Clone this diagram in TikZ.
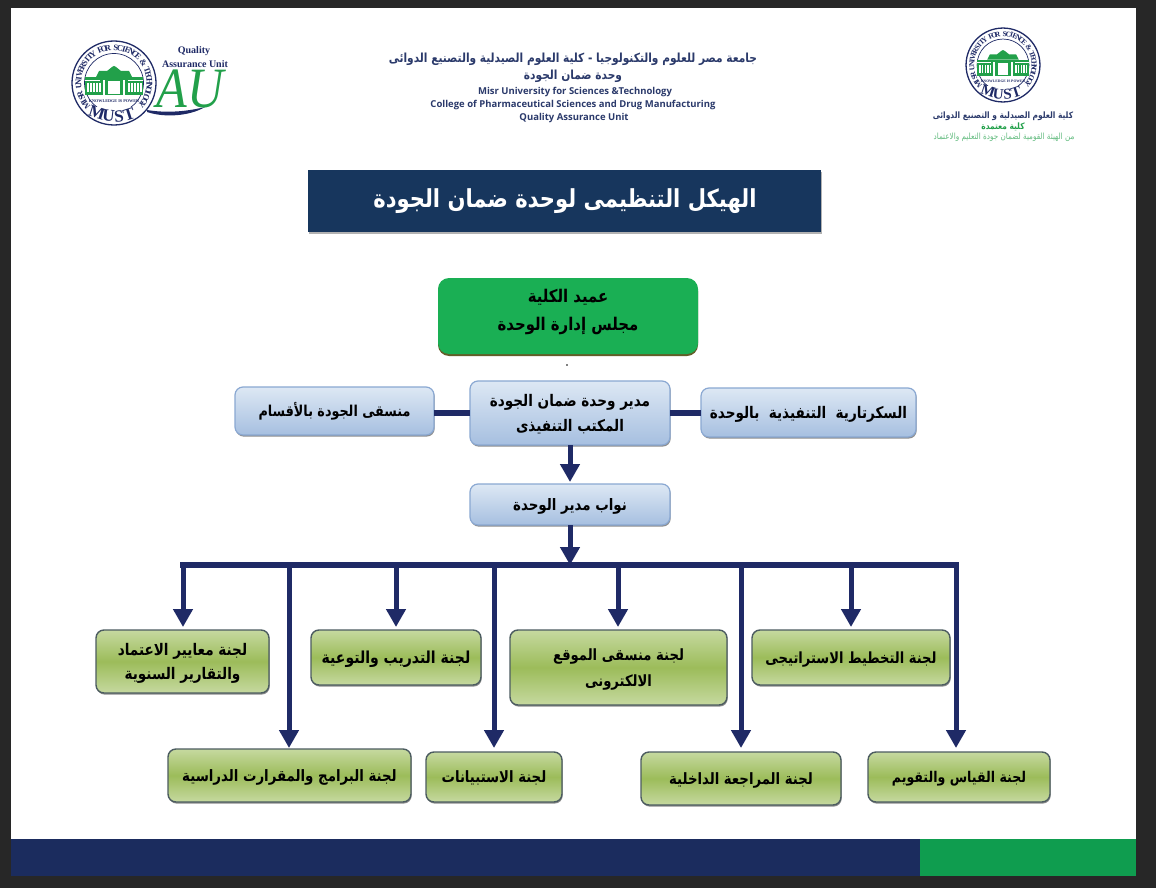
\documentclass[tikz,border=0pt]{standalone}
\usepackage{fontspec}
\usetikzlibrary{arrows.meta,shadows}
\setmainfont{Liberation Sans}
\TeXXeTstate=1
\newfontfamily\arabicfont[Script=Arabic,FakeStretch=0.85]{DejaVu Sans}
\newfontfamily\serifbody{Liberation Serif}
\newfontfamily\headlatin{Open Sans}
\definecolor{frameC}{HTML}{272727}
\definecolor{navyC}{HTML}{1F2A66}
\definecolor{titleC}{HTML}{17365D}
\definecolor{footN}{HTML}{1B2C5E}
\definecolor{footG}{HTML}{0F9D4F}
\definecolor{deanC}{HTML}{1AAF54}
\definecolor{logoG}{HTML}{22A04A}
\definecolor{headC}{HTML}{2B3A6B}
\definecolor{gTop}{HTML}{C6D9A0}
\definecolor{gMid}{HTML}{9CBC5A}
\definecolor{gEdge}{HTML}{4C5C60}
\definecolor{bTop}{HTML}{DDE8F4}
\definecolor{bBot}{HTML}{A6BFE0}
\definecolor{bEdge}{HTML}{8AA8D2}
\newcommand{\ar}[2]{{\fontsize{#1}{#1}\selectfont\arabicfont\bfseries\raisebox{-2pt}[.8em][.3em]{#2}}}
\newcommand{\arlight}[2]{{\fontsize{#1}{#1}\selectfont\arabicfont #2}}
\newcommand{\fs}[1]{\fontsize{#1}{#1}\selectfont}
% #1 x, #2 y, #3 scale, #4 ring text size, #5 MUST size, #6 motto size
\newcommand{\mustlogo}[6]{%
 \begin{scope}[shift={(#1,#2)},scale=#3]
  \fill[white] (0,0) circle[radius=42];
  \draw[navyC,line width=0.7pt] (0,0) circle[radius=29.5];
  \foreach \ch [count=\ii] in {M,I,S,R,{},U,N,I,V,E,R,S,I,T,Y,{},F,O,R,{},S,C,I,E,N,C,E,{},\&,{},T,E,C,H,N,O,L,O,G,Y}{
    \pgfmathsetmacro{\aa}{218-(\ii-1)*6.56}
    \node[rotate=\aa-90,text=navyC,inner sep=0pt] at (\aa:35.5) {\fs{#4}\serifbody\bfseries\ch};
  }
  \fill[white] (-26,-40) rectangle (26,-24);
  \draw[navyC,line width=1.3pt] (0,0) circle[radius=42];
  \foreach \ch/\xx/\yy/\rr in {M/-17/-30/-18,U/-5.5/-33/-6,S/5/-33/6,T/15/-31/18}{
    \node[rotate=\rr,text=navyC,inner sep=0pt] at (\xx,\yy) {\fs{#5}\serifbody\bfseries\ch};
  }
  \node[text=navyC,inner sep=0pt] at (0,-18) {\fs{#6}\serifbody\bfseries KNOWLEDGE IS POWER};
  \fill[logoG] (-29,-12) rectangle (29,6);
  \fill[logoG] (-18,6) -- (-15,12) -- (-7,12) -- (-2,16) -- (0,17) -- (2,16) -- (7,12) -- (15,12) -- (18,6) -- cycle;
  \fill[white] (-6,-11) rectangle (6,2);
  \foreach \cx in {-27,-24,-21,-18,-15, 14,17,20,23,26}{\fill[white] (\cx,-9) rectangle (\cx+1.6,0);}
  \foreach \cx in {-11,9}{\fill[white] (\cx,-12) rectangle (\cx+2,3);}
  \fill[white] (-29,2) rectangle (-14,3);
  \fill[white] (14,2) rectangle (29,3);
 \end{scope}}
\tikzset{
 gbox/.style={draw=gEdge,line width=1.4pt,rounded corners=8pt,inner sep=0pt,outer sep=0pt,align=center,
   top color=gTop,bottom color=gTop,middle color=gMid,
   drop shadow={shadow xshift=0.7pt,shadow yshift=-1.6pt,fill=black,opacity=.45}},
 bbox/.style={draw=bEdge,line width=1.2pt,rounded corners=8pt,inner sep=0pt,outer sep=0pt,align=center,
   top color=bTop,bottom color=bBot,
   drop shadow={shadow xshift=0.7pt,shadow yshift=-1.6pt,fill=black,opacity=.45}},
 deanbox/.style={fill=deanC,rounded corners=11pt,inner sep=0pt,outer sep=0pt,align=center,
   drop shadow={shadow xshift=0pt,shadow yshift=-2pt,fill=olive!60!black,opacity=1}},
 titlebox/.style={fill=titleC,inner sep=0pt,outer sep=0pt,text=white,
   drop shadow={shadow xshift=1pt,shadow yshift=-1.5pt,fill=gray,opacity=.6}},
 flatlink/.style={navyC,line width=6pt},
 dropline/.style={navyC,line width=5pt,-{Triangle[width=19pt,length=18pt]},shorten >=3pt},
 hdr/.style={inner sep=0pt,outer sep=0pt,text=headC},
}
\begin{document}
\begin{tikzpicture}[x=1pt,y=1pt]
\useasboundingbox (0,0) rectangle (1156,-888);
\fill[frameC] (0,0) rectangle (1156,-888);
\fill[white] (11,-8) rectangle (1136,-876);
\fill[footN] (11,-839) rectangle (920,-876);
\fill[footG] (920,-839) rectangle (1136,-876);

% logos
\fill[navyC] (147,-110) .. controls (165,-113) and (185,-112) .. (205,-107) .. controls (190,-116) and (165,-118) .. (147,-112) -- cycle;
\node[inner sep=0pt,anchor=base,text=logoG] (au) at (190,-108) {\fs{57}\serifbody\itshape\scalebox{.88}[1]{AU}};
\mustlogo{114}{-83}{1}{8.4}{17}{4.2}
\mustlogo{1003}{-65}{0.88}{7.4}{15}{3.7}
\node[hdr,text=navyC] (qa1) at (194,-51) {\fs{10}\serifbody\bfseries Quality};
\node[hdr,text=navyC] (qa2) at (195,-64) {\fs{10}\serifbody\bfseries Assurance Unit};

% header
\node[hdr] (h1) at (573,-57) {\ar{12.5}{\beginR جامعة مصر للعلوم والتكنولوجيا - كلية العلوم الصيدلية والتصنيع الدوائى\endR}};
\node[hdr] (h2) at (573,-74) {\ar{12.5}{\beginR وحدة ضمان الجودة\endR}};
\node[hdr] (h3) at (575,-92) {\fs{9.5}\headlatin\bfseries Misr University for Sciences \&Technology};
\node[hdr] (h4) at (573,-105) {\fs{9.5}\headlatin\bfseries College of Pharmaceutical Sciences and Drug Manufacturing};
\node[hdr] (h5) at (574,-118) {\fs{9.5}\headlatin\bfseries Quality Assurance Unit};

% right caption
\node[hdr] (c1t) at (1003,-114) {\ar{8.8}{\beginR كلية العلوم الصيدلية و التصنيع الدوائى\endR}};
\node[hdr,text=logoG] (c2t) at (1003,-125) {\ar{8.8}{\beginR كلية معتمدة\endR}};
\node[hdr,text=logoG!70!white] (c3t) at (1004,-137) {\arlight{8.5}{\beginR من الهيئة القومية لضمان جودة التعليم والاعتماد\endR}};

% title
\node[titlebox,minimum width=513pt,minimum height=62pt] (title) at (564.5,-201) {};
\node[inner sep=0pt,text=white] (titletext) at (565,-199) {\ar{24.8}{\beginR الهيكل التنظيمى لوحدة ضمان الجودة\endR}};

% dot
\fill[black] (567,-365) circle[radius=0.8];

% upper boxes
\node[deanbox,minimum width=260pt,minimum height=76pt] (dean) at (568,-316) {};
\node[inner sep=0pt,align=center] (deantext) at (568,-310)
  {\ar{17.5}{\beginR عميد الكلية\endR}\\[8pt]\ar{17.5}{\beginR مجلس إدارة الوحدة\endR}};
\node[bbox,minimum width=199pt,minimum height=48pt] (coord) at (334.5,-411) {\ar{15}{\beginR منسقى الجودة بالأقسام\endR}};
\node[bbox,minimum width=200pt,minimum height=64pt] (mgr) at (570,-413)
  {\ar{16}{\beginR مدير وحدة ضمان الجودة\endR}\\[7pt]\ar{16}{\beginR المكتب التنفيذى\endR}};
\node[bbox,minimum width=215pt,minimum height=49pt] (sec) at (808.5,-412.5) {\ar{16}{\beginR السكرتارية\ \ التنفيذية\ \ بالوحدة\endR}};
\node[bbox,minimum width=200pt,minimum height=41pt] (dep) at (570,-504.5) {\ar{15.8}{\beginR نواب مدير الوحدة\endR}};

% committee boxes
\node[gbox,minimum width=173pt,minimum height=63pt] (k1) at (182.5,-661.5)
  {\ar{16}{\beginR لجنة معايير الاعتماد\endR}\\[6pt]\ar{16}{\beginR والتقارير السنوية\endR}};
\node[gbox,minimum width=170pt,minimum height=55pt] (k2) at (396,-657.5) {\ar{16.5}{\beginR لجنة التدريب والتوعية\endR}};
\node[gbox,minimum width=217pt,minimum height=75pt] (k3) at (618.5,-667.5)
  {\ar{15.5}{\beginR لجنة منسقى الموقع\endR}\\[8pt]\ar{15.5}{\beginR الالكترونى\endR}};
\node[gbox,minimum width=198pt,minimum height=55pt] (k4) at (851,-657.5) {\ar{15.4}{\beginR لجنة التخطيط الاستراتيجى\endR}};
\node[gbox,minimum width=243pt,minimum height=53pt] (k5) at (289.5,-775.5) {\ar{15.7}{\beginR لجنة البرامج والمقرارت الدراسية\endR}};
\node[gbox,minimum width=136pt,minimum height=50pt] (k6) at (494,-777) {\ar{15.6}{\beginR لجنة الاستبيانات\endR}};
\node[gbox,minimum width=200pt,minimum height=53pt] (k7) at (741,-778.5) {\ar{15.6}{\beginR لجنة المراجعة الداخلية\endR}};
\node[gbox,minimum width=182pt,minimum height=50pt] (k8) at (959,-777) {\ar{14.8}{\beginR لجنة القياس والتقويم\endR}};

% connectors
\coordinate (hub) at (570,-565);
\coordinate (b1) at (183,-565);
\coordinate (b2) at (289,-565);
\coordinate (b3) at (396,-565);
\coordinate (b4) at (494,-565);
\coordinate (b5) at (618,-565);
\coordinate (b6) at (741,-565);
\coordinate (b7) at (851,-565);
\coordinate (b8) at (956,-565);
\draw[flatlink] (mgr.west) -- (mgr.west -| coord.east);
\draw[flatlink] (mgr.east) -- (mgr.east -| sec.west);
\draw[dropline,shorten >=2pt] (mgr.south) -- (dep.north);
\draw[dropline,shorten >=0pt] (dep.south) -- (hub);
\draw[flatlink,line cap=rect] (b1) -- (b8);
\draw[dropline] (b1) -- (b1 |- k1.north);
\draw[dropline,shorten >=1pt] (b2) -- (b2 |- k5.north);
\draw[dropline] (b3) -- (b3 |- k2.north);
\draw[dropline,shorten >=4pt] (b4) -- (b4 |- k6.north);
\draw[dropline] (b5) -- (b5 |- k3.north);
\draw[dropline,shorten >=4pt] (b6) -- (b6 |- k7.north);
\draw[dropline] (b7) -- (b7 |- k4.north);
\draw[dropline,shorten >=4pt] (b8) -- (b8 |- k8.north);
\end{tikzpicture}
\end{document}
